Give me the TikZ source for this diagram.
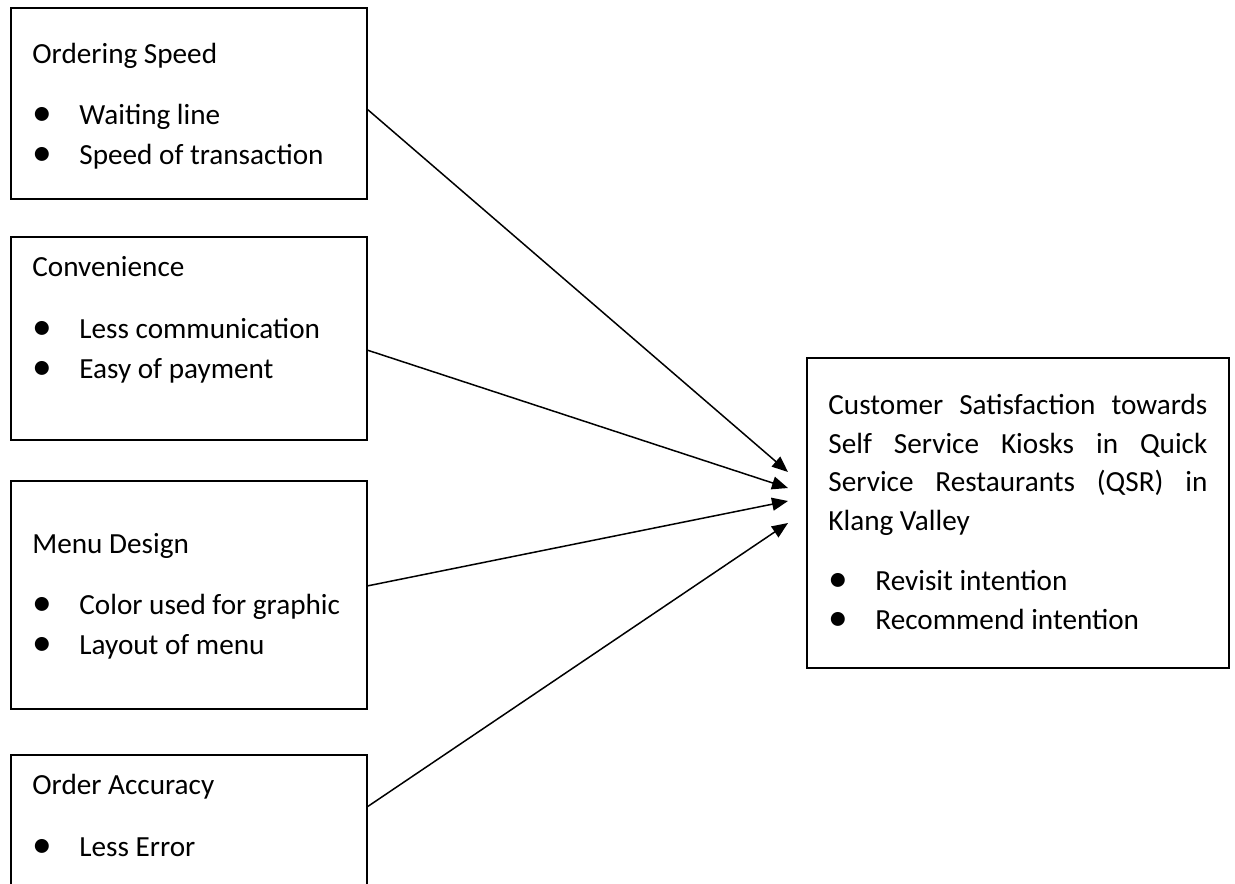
\documentclass[tikz,border=0pt]{standalone}
\usepackage{fontspec}
\usepackage{graphicx}
\setmainfont{Carlito}
\usetikzlibrary{arrows.meta,positioning,calc}

\newcommand{\blt}{\makebox[23.5pt][l]{\raisebox{-0.6pt}{\scalebox{1.35}{\textbullet}}}}
\newcommand{\jline}[1]{\makebox[189.5pt][s]{#1}}

\begin{document}
\begin{tikzpicture}[
  x=0.5pt, y=-0.5pt,
  factor/.style={draw, line width=1pt, minimum width=178pt, inner sep=0pt, outer sep=0pt},
  outcome/.style={factor, minimum width=211pt, minimum height=155pt},
  txt/.style={anchor=base west, inner sep=0pt, align=left,
    font=\fontsize{14.6pt}{20pt}\selectfont},
  ctxt/.style={txt, font=\fontsize{14.6pt}{19.2pt}\selectfont},
  arr/.style={-{Triangle[length=8pt,width=6.5pt]}, line width=0.75pt},
]
\useasboundingbox (0,0) rectangle (1235,883);

\node[factor, minimum height=95.5pt, anchor=north west] (os) at (11,8) {};
\node[factor, minimum height=101.5pt, below=19pt of os] (cv) {};
\node[factor, minimum height=114pt, below=20.5pt of cv] (md) {};
\node[factor, minimum height=75pt, below=23pt of md] (oa) {};
\node[outcome, anchor=north west] (cs) at (807,358) {};

\node[txt] (os-t) at ($(os.north west)+(21,56)$) {Ordering Speed};
\node[txt] (os-b) at ($(os.north west)+(21,156)$) {\blt Waiting line\\\blt Speed of transaction};
\node[txt] (cv-t) at ($(cv.north west)+(21,39)$) {Convenience};
\node[txt] (cv-b) at ($(cv.north west)+(21,141)$) {\blt Less communication\\\blt Easy of payment};
\node[txt] (md-t) at ($(md.north west)+(21,72)$) {Menu Design};
\node[txt] (md-b) at ($(md.north west)+(21,173)$) {\blt Color used for graphic\\\blt Layout of menu};
\node[txt] (oa-t) at ($(oa.north west)+(21,39)$) {Order Accuracy};
\node[txt] (oa-b) at ($(oa.north west)+(21,101)$) {\blt Less Error};

\node[ctxt] (cs-t) at ($(cs.north west)+(21,172)$) {\jline{Customer Satisfaction towards}\\
  \jline{Self Service Kiosks in Quick}\\\jline{Service Restaurants (QSR) in}\\Klang Valley};
\node[ctxt] (cs-b) at ($(cs.north west)+(21,271)$) {\blt Revisit intention\\\blt Recommend intention};

\draw[arr] ($(os.north east)+(0,101)$) -- ($(cs.north west)+(-19,114)$);
\draw[arr] ($(cv.north east)+(0,113)$) -- ($(cs.north west)+(-19,130)$);
\draw[arr] ($(md.north east)+(0,105)$) -- ($(cs.north west)+(-19,143)$);
\draw[arr] ($(oa.north east)+(0,52)$) -- ($(cs.north west)+(-19,165)$);
\end{tikzpicture}
\end{document}
